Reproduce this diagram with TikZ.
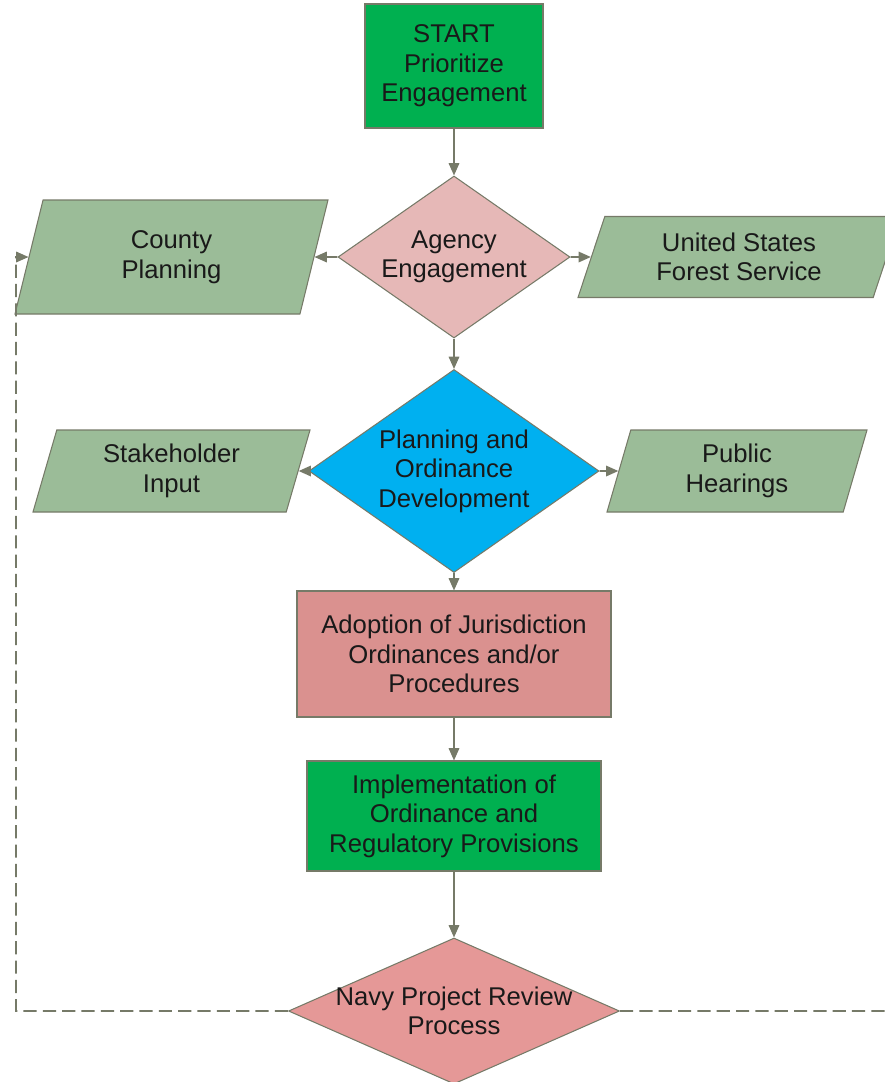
\documentclass[tikz,border=0pt]{standalone}
\usepackage{fontspec}
\setmainfont{Liberation Sans}
\usetikzlibrary{arrows.meta,shapes.geometric}

\definecolor{startgreen}{RGB}{0,176,80}
\definecolor{agencypink}{RGB}{230,184,183}
\definecolor{inputgreen}{RGB}{155,188,152}
\definecolor{planblue}{RGB}{0,176,240}
\definecolor{adoptred}{RGB}{218,145,143}
\definecolor{navyred}{RGB}{229,152,151}
\definecolor{edgegray}{RGB}{118,122,104}
\definecolor{textblack}{RGB}{25,25,25}

\tikzset{
	shapebase/.style={draw=edgegray, line width=0.6pt, inner sep=0pt, align=center, text=textblack, font=\fontsize{14.6}{16.8}\selectfont},
	stepbox/.style={shapebase, rectangle},
	choice/.style={shapebase, diamond},
	inputbox/.style={shapebase, trapezium, trapezium stretches body, fill=inputgreen},
	flow/.style={draw=edgegray, line width=0.9pt, -{Triangle[length=7pt,width=6pt]}},
	loopline/.style={flow, dash pattern=on 7.5pt off 3.5pt}
}

\begin{document}
\begin{tikzpicture}
		%%%%% START %%%%%
		\useasboundingbox (0,0) rectangle (17.7,-21.64);
		
		\node[stepbox, fill=startgreen, minimum width=3.56cm, minimum height=2.48cm] (start) at (9.08,-1.32) {START\\Prioritize\\Engagement};
		\node[choice, fill=agencypink, aspect=1.43, minimum width=4.64cm, minimum height=3.24cm] (agency) at (9.08,-5.14) {Agency\\Engagement};
		
		\node[inputbox, trapezium left angle=62, trapezium right angle=118, minimum width=6.26cm, minimum height=2.28cm] (county) at (3.43,-5.14) {County\\Planning};
		\node[inputbox, trapezium left angle=61, trapezium right angle=119, minimum width=6.44cm, minimum height=1.62cm] (usfs) at (14.78,-5.14) {United States\\Forest Service};
		
		\node[choice, fill=planblue, aspect=1.43, minimum width=5.80cm, minimum height=4.06cm] (plan) at (9.08,-9.42) {Planning and\\Ordinance\\Development};
		
		\node[inputbox, trapezium left angle=66, trapezium right angle=114, minimum width=5.54cm, minimum height=1.64cm] (stake) at (3.43,-9.42) {Stakeholder\\Input};
		\node[inputbox, trapezium left angle=66, trapezium right angle=114, minimum width=5.20cm, minimum height=1.64cm] (hearing) at (14.74,-9.42) {Public\\Hearings};
		
		\node[stepbox, fill=adoptred, minimum width=6.28cm, minimum height=2.52cm] (adopt) at (9.08,-13.08) {Adoption of Jurisdiction\\Ordinances and/or\\Procedures};
		\node[stepbox, fill=startgreen, minimum width=5.88cm, minimum height=2.20cm] (implement) at (9.08,-16.32) {Implementation of\\Ordinance and\\Regulatory Provisions};
		
		\node[choice, fill=navyred, aspect=2.27, minimum width=6.62cm, minimum height=2.92cm, label={[align=center, text=textblack, font=\fontsize{14.6}{16.8}\selectfont]center:Navy Project Review\\Process}] (navy) at (9.08,-20.22) {};
		
		\draw[flow] (start) -- (agency);
		\draw[flow] (agency) -- (county);
		\draw[flow] (agency) -- (usfs);
		\draw[flow] (agency) -- (plan);
		\draw[flow] (plan) -- (stake);
		\draw[flow] (plan) -- (hearing);
		\draw[flow] (plan) -- (adopt);
		\draw[flow] (adopt) -- (implement);
		\draw[flow] (implement) -- (navy);
		
		% review loops back to the agencies
		\coordinate (loopleft) at (0.32,-5.14);
		\coordinate (loopright) at (18.0,-5.14);
		\draw[loopline] (navy.west) -| (loopleft) -- (county.west);
		\draw[loopline] (navy.east) -| (loopright) -- (usfs.east);
		
		%%%%% END %%%%%
	\end{tikzpicture}
\end{document}
